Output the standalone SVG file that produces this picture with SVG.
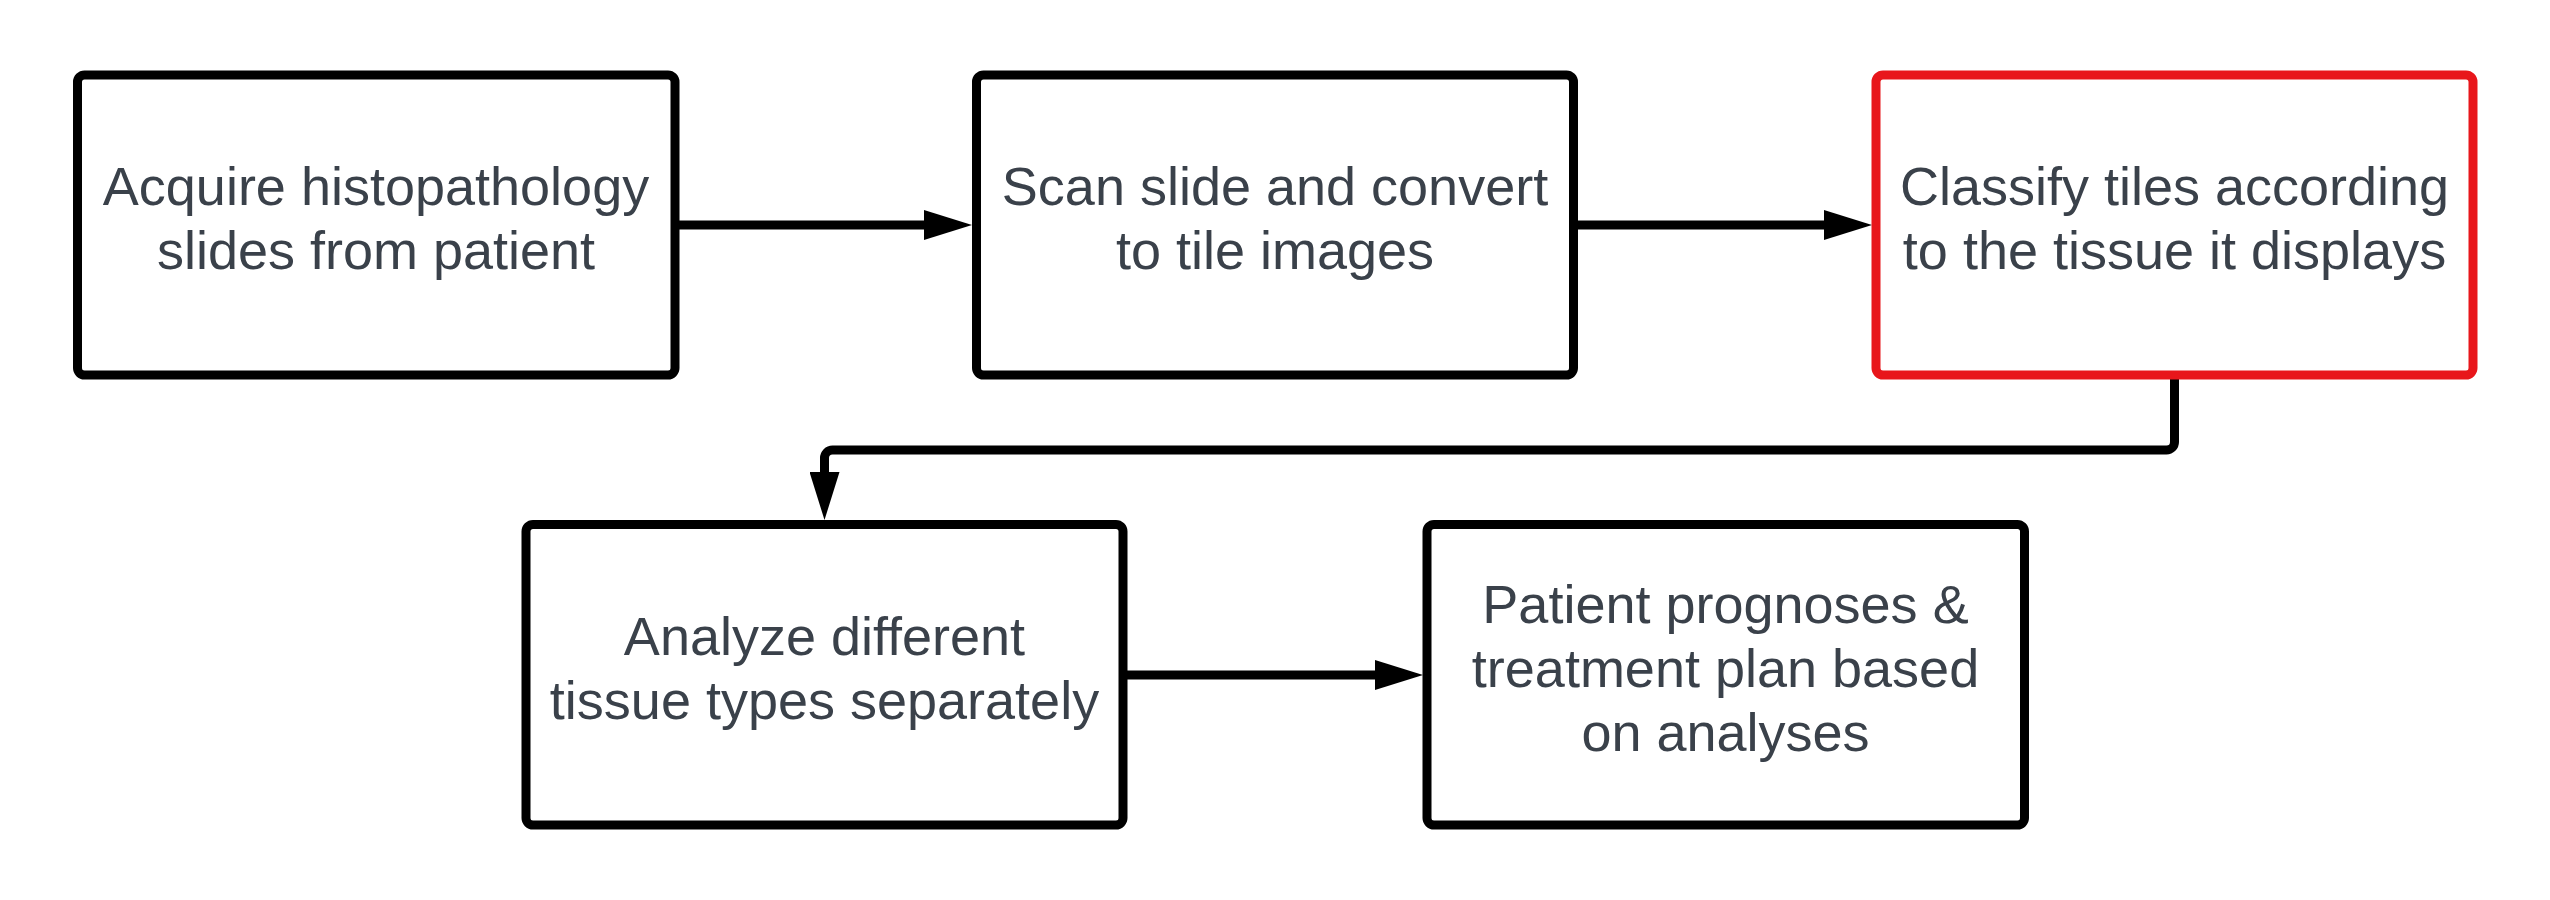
<svg xmlns="http://www.w3.org/2000/svg" width="2550" height="900" viewBox="0 0 2550 900">
  <style>
    .box { fill: #ffffff; stroke: #000000; stroke-width: 9; }
    .hl { stroke: #e8161b; }
    .lbl { font-family: "Liberation Sans", Arial, sans-serif; font-size: 54px; fill: #3a414a; text-anchor: middle; }
    .conn { fill: none; stroke: #000000; stroke-width: 9; }
  </style>
  <defs>
    <marker id="arrow" markerUnits="userSpaceOnUse" viewBox="0 0 48 30" refX="0" refY="15" markerWidth="48" markerHeight="30" orient="auto">
      <path d="M0,0 L48,15 L0,30 Z" fill="#000000"/>
    </marker>
  </defs>
  <rect width="2550" height="900" fill="#ffffff"/>

  <g id="connectors">
    <path class="conn" d="M675,225 H924" marker-end="url(#arrow)"/>
    <path class="conn" d="M1573,225 H1824" marker-end="url(#arrow)"/>
    <path class="conn" d="M2174.5,379 V442 A8,8 0 0 1 2166.5,450 H832.5 A8,8 0 0 0 824.5,458 V472" marker-end="url(#arrow)"/>
    <path class="conn" d="M1122.5,675 H1375" marker-end="url(#arrow)"/>
  </g>

  <g id="node1">
    <rect class="box" x="77.5" y="75" width="597.5" height="300" rx="7"/>
    <text class="lbl" x="376" y="205">Acquire histopathology</text>
    <text class="lbl" x="376" y="269">slides from patient</text>
  </g>
  <g id="node2">
    <rect class="box" x="976.5" y="75" width="597" height="300" rx="7"/>
    <text class="lbl" x="1275" y="205">Scan slide and convert</text>
    <text class="lbl" x="1275" y="269">to tile images</text>
  </g>
  <g id="node3">
    <rect class="box hl" x="1876" y="75" width="597" height="300" rx="7"/>
    <text class="lbl" x="2174.5" y="205">Classify tiles according</text>
    <text class="lbl" x="2174.5" y="269">to the tissue it displays</text>
  </g>
  <g id="node4">
    <rect class="box" x="526" y="524.5" width="597" height="300.5" rx="7"/>
    <text class="lbl" x="824.5" y="655">Analyze different</text>
    <text class="lbl" x="824.5" y="719">tissue types separately</text>
  </g>
  <g id="node5">
    <rect class="box" x="1427" y="524.5" width="597.5" height="300.5" rx="7"/>
    <text class="lbl" x="1725.5" y="623">Patient prognoses &amp;</text>
    <text class="lbl" x="1725.5" y="687">treatment plan based</text>
    <text class="lbl" x="1725.5" y="751">on analyses</text>
  </g>
</svg>
